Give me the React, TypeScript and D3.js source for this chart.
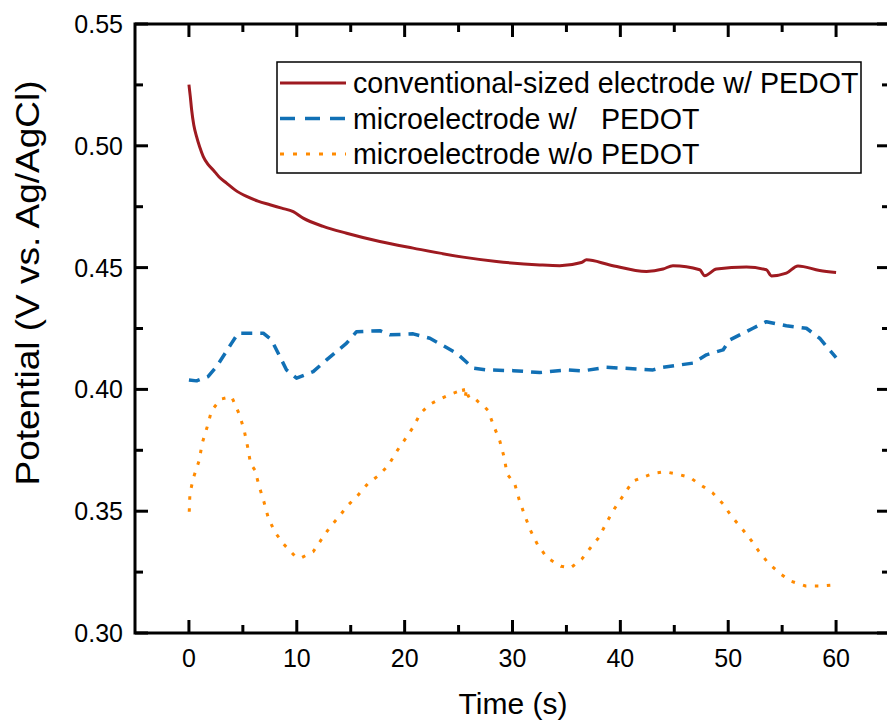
import React from "react";
import * as d3 from "d3";

// Open-circuit potential traces (V vs. Ag/AgCl) over 60 s
const convTime = [0, 0.12, 0.25, 0.45, 0.71, 1.0, 1.33, 1.75, 2.25, 2.8, 3.49, 4.3, 5.35, 6.4, 7.51, 8.6, 9.67, 10.59, 12.45, 14.62, 17.7, 20.79, 25.42, 28.52, 32.53, 34.38, 36.39, 36.86, 39.02, 42.42, 43.96, 44.88, 47.36, 47.82, 48.91, 51.69, 53.54, 54.0, 55.39, 56.47, 58.48, 60.0];
const convPotential = [0.5251, 0.5205, 0.5148, 0.5085, 0.5038, 0.4995, 0.4956, 0.4925, 0.4901, 0.4872, 0.4847, 0.4818, 0.4792, 0.4773, 0.4758, 0.4744, 0.473, 0.4703, 0.4669, 0.4641, 0.4607, 0.458, 0.4543, 0.4525, 0.4511, 0.4508, 0.4521, 0.4532, 0.4511, 0.4484, 0.4494, 0.4508, 0.4491, 0.4467, 0.4494, 0.4502, 0.4491, 0.4466, 0.4477, 0.4507, 0.4488, 0.448];

const microTime = [0, 0.71, 1.79, 2.57, 3.96, 4.57, 6.89, 7.66, 9.05, 9.98, 11.52, 12.76, 14.62, 15.54, 17.7, 18.63, 20.79, 22.34, 24.81, 26.35, 27.59, 30.06, 32.53, 35.0, 36.54, 38.71, 40.25, 43.03, 43.96, 46.74, 47.98, 49.52, 50.14, 52.3, 53.54, 55.39, 57.25, 58.48, 60.0];
const microPotential = [0.4039, 0.4035, 0.4053, 0.4094, 0.419, 0.4231, 0.4231, 0.4203, 0.408, 0.4046, 0.4073, 0.4121, 0.419, 0.4237, 0.4241, 0.4224, 0.4228, 0.421, 0.4149, 0.4087, 0.408, 0.4077, 0.4069, 0.408, 0.4076, 0.4091, 0.4087, 0.408, 0.4091, 0.4108, 0.4142, 0.4162, 0.4203, 0.4251, 0.4278, 0.4261, 0.4251, 0.421, 0.413];

const bareTime = [0.03, 0.09, 0.4, 0.95, 1.23, 1.7, 2.1, 2.94, 3.96, 4.63, 5.1, 5.44, 5.72, 6.12, 6.52, 6.95, 7.35, 7.97, 8.8, 9.82, 10.35, 11.52, 12.3, 13.07, 13.99, 14.71, 15.63, 16.62, 17.54, 18.47, 19.28, 20.11, 20.76, 21.47, 22.34, 23.26, 24.35, 25.2, 25.42, 25.6, 25.74, 25.9, 26.04, 26.35, 26.81, 27.43, 27.74, 28.2, 28.82, 29.22, 29.5, 30.21, 30.61, 31.08, 31.67, 32.32, 33.21, 34.48, 35.38, 36.42, 37.23, 38.03, 38.71, 39.48, 40.32, 41.18, 42.05, 43.12, 44.11, 45.2, 46.43, 47.54, 48.54, 49.52, 50.32, 51.32, 52.15, 52.83, 53.73, 54.87, 55.86, 57.18, 58.64, 59.71, 60.0];
const barePotential = [0.3498, 0.3571, 0.3635, 0.3708, 0.3779, 0.3847, 0.3913, 0.396, 0.397, 0.3902, 0.3837, 0.3765, 0.3694, 0.3669, 0.3601, 0.3539, 0.3474, 0.3414, 0.3364, 0.3316, 0.3307, 0.3334, 0.3385, 0.3434, 0.3482, 0.3523, 0.3563, 0.3615, 0.3645, 0.3687, 0.3747, 0.38, 0.3843, 0.3902, 0.3939, 0.396, 0.3982, 0.3995, 0.4007, 0.3965, 0.4001, 0.3972, 0.3977, 0.3968, 0.395, 0.3927, 0.3913, 0.3857, 0.3789, 0.3722, 0.3653, 0.3612, 0.3549, 0.3489, 0.3421, 0.3363, 0.3309, 0.3274, 0.3267, 0.3303, 0.335, 0.3393, 0.3453, 0.3512, 0.3568, 0.3624, 0.3639, 0.3656, 0.3662, 0.3653, 0.3639, 0.3605, 0.3576, 0.353, 0.3478, 0.3426, 0.3379, 0.3336, 0.3286, 0.3242, 0.3212, 0.3193, 0.3193, 0.3197, 0.3197];

const xMajorTicks = [0, 10, 20, 30, 40, 50, 60];
const xMinorTicks = [5, 15, 25, 35, 45, 55, 65];
const yMajorTicks = [0.3, 0.35, 0.4, 0.45, 0.5, 0.55];
const yMinorTicks = [0.325, 0.375, 0.425, 0.475, 0.525];

const seriesLabels = [
  "conventional-sized electrode w/ PEDOT",
  "microelectrode w/   PEDOT",
  "microelectrode w/o PEDOT",
];

const W = 887;
const H = 720;
const left = 135;
const right = 890;
const top = 24;
const bottom = 633;

const font = "'Liberation Sans', Arial, sans-serif";

export default function App() {
  const x = d3.scaleLinear().domain([-5, 65]).range([left, right]);
  const y = d3.scaleLinear().domain([0.3, 0.55]).range([bottom, top]);

  const makePath = (ts: number[], vs: number[], curve: d3.CurveFactory) =>
    d3
      .line<number>()
      .x((_, i) => x(ts[i]))
      .y((v) => y(v))
      .curve(curve)(vs) as string;

  const series = [
    { d: makePath(convTime, convPotential, d3.curveMonotoneX), color: "#9E1A20", width: 3, dash: undefined as string | undefined, legendDash: undefined as string | undefined },
    { d: makePath(microTime, microPotential, d3.curveLinear), color: "#1170B5", width: 3.5, dash: "11,8", legendDash: "15,10" },
    { d: makePath(bareTime, barePotential, d3.curveLinear), color: "#FF8A00", width: 3, dash: "3.5,8.5", legendDash: "4,9" },
  ];

  const majorLen = 13;
  const minorLen = 8;

  return (
    <svg
      width={W}
      height={H}
      style={{ position: "absolute", left: 0, top: 0, background: "#fff" }}
      fontFamily={font}
    >
      <rect x={0} y={0} width={W} height={H} fill="#fff" />

      {/* data lines */}
      <g fill="none" strokeLinejoin="round">
        {series.map((s, i) => (
          <path
            key={i}
            d={s.d}
            stroke={s.color}
            strokeWidth={s.width}
            strokeDasharray={s.dash}
          />
        ))}
      </g>

      {/* frame */}
      <rect
        x={left}
        y={top}
        width={right - left}
        height={bottom - top}
        fill="none"
        stroke="#000"
        strokeWidth={3}
      />

      {/* ticks on all four sides, pointing inward */}
      <g stroke="#000" strokeWidth={3}>
        {xMajorTicks.map((t) => (
          <g key={"xm" + t}>
            <line x1={x(t)} x2={x(t)} y1={bottom} y2={bottom - majorLen} />
            <line x1={x(t)} x2={x(t)} y1={top} y2={top + majorLen} />
          </g>
        ))}
        {xMinorTicks.map((t) => (
          <g key={"xn" + t}>
            <line x1={x(t)} x2={x(t)} y1={bottom} y2={bottom - minorLen} />
            <line x1={x(t)} x2={x(t)} y1={top} y2={top + minorLen} />
          </g>
        ))}
        {yMajorTicks.map((v) => (
          <g key={"ym" + v}>
            <line x1={left} x2={left + majorLen} y1={y(v)} y2={y(v)} />
            <line x1={right} x2={right - majorLen} y1={y(v)} y2={y(v)} />
          </g>
        ))}
        {yMinorTicks.map((v) => (
          <g key={"yn" + v}>
            <line x1={left} x2={left + minorLen} y1={y(v)} y2={y(v)} />
            <line x1={right} x2={right - minorLen} y1={y(v)} y2={y(v)} />
          </g>
        ))}
      </g>

      {/* tick labels */}
      <g fontSize={25} fill="#000">
        {xMajorTicks.map((t) => (
          <text key={"xl" + t} x={x(t)} y={667} textAnchor="middle">
            {t}
          </text>
        ))}
        {yMajorTicks.map((v) => (
          <text key={"yl" + v} x={123} y={y(v) + 9} textAnchor="end">
            {d3.format(".2f")(v)}
          </text>
        ))}
      </g>

      {/* axis titles */}
      <text x={513} y={714} fontSize={30} textAnchor="middle" fill="#000">
        Time (s)
      </text>
      <text
        transform={`translate(39,283) rotate(-90)`}
        fontSize={33}
        textAnchor="middle"
        fill="#000"
        textLength={405}
        lengthAdjust="spacingAndGlyphs"
      >
        Potential (V vs. Ag/AgCl)
      </text>

      {/* legend */}
      <g>
        <rect x={277} y={62} width={584} height={111} fill="#fff" stroke="#000" strokeWidth={1.5} />
        {series.map((s, i) => {
          const cy = 83 + i * 35.5;
          return (
            <g key={"lg" + i}>
              <line
                x1={280}
                x2={346}
                y1={cy}
                y2={cy}
                stroke={s.color}
                strokeWidth={s.width}
                strokeDasharray={s.legendDash}
              />
              <text x={353} y={cy + 10} fontSize={28.6} fill="#000" style={{ whiteSpace: "pre" }}>
                {seriesLabels[i]}
              </text>
            </g>
          );
        })}
      </g>
    </svg>
  );
}
